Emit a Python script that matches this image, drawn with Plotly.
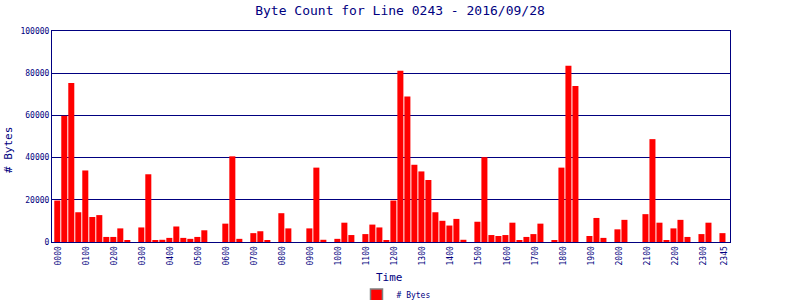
import plotly.graph_objects as go

times = [
    "0000", "0015", "0030", "0045", "0100", "0115", "0130", "0145",
    "0200", "0215", "0230", "0245", "0300", "0315", "0330", "0345",
    "0400", "0415", "0430", "0445", "0500", "0515", "0530", "0545",
    "0600", "0615", "0630", "0645", "0700", "0715", "0730", "0745",
    "0800", "0815", "0830", "0845", "0900", "0915", "0930", "0945",
    "1000", "1015", "1030", "1045", "1100", "1115", "1130", "1145",
    "1200", "1215", "1230", "1245", "1300", "1315", "1330", "1345",
    "1400", "1415", "1430", "1445", "1500", "1515", "1530", "1545",
    "1600", "1615", "1630", "1645", "1700", "1715", "1730", "1745",
    "1800", "1815", "1830", "1845", "1900", "1915", "1930", "1945",
    "2000", "2015", "2030", "2045", "2100", "2115", "2130", "2145",
    "2200", "2215", "2230", "2245", "2300", "2315", "2330", "2345",
]

byte_counts = [
    19650, 59800, 75350, 14100, 33900, 11850, 12750, 2400,
    2400, 6450, 600, 0, 6900, 32100, 600, 1050,
    1950, 7350, 1950, 1500, 2400, 5550, 0, 0,
    8700, 40600, 1500, 0, 4200, 5100, 600, 0,
    13650, 6450, 0, 0, 6450, 35250, 1050, 0,
    1500, 9150, 3300, 0, 3750, 8250, 6900, 600,
    19650, 81150, 69000, 36600, 33450, 29400, 14100, 10050,
    7800, 10950, 1050, 0, 9600, 40200, 3300, 2850,
    3300, 9150, 600, 2400, 3750, 8700, 0, 600,
    35250, 83550, 73950, 0, 2850, 11400, 1950, 0,
    6000, 10500, 0, 0, 13200, 48750, 9150, 600,
    6450, 10500, 2400, 0, 3750, 9150, 0, 4200,
]

tick_labels = [
    "0000", "0100", "0200", "0300", "0400", "0500", "0600", "0700",
    "0800", "0900", "1000", "1100", "1200", "1300", "1400", "1500",
    "1600", "1700", "1800", "1900", "2000", "2100", "2200", "2300", "2345",
]

y_ticks = [0, 20000, 40000, 60000, 80000, 100000]

NAVY = "#000080"
FONT = "DejaVu Sans Mono"

fig = go.Figure()
fig.add_trace(go.Bar(
    x=times, y=byte_counts, name="# Bytes",
    marker=dict(color="#FF0000", line=dict(width=0)),
    width=0.86, showlegend=False,
))
# legend-only entry (gray-bordered red swatch)
fig.add_trace(go.Bar(
    x=[times[0]], y=[None], name="# Bytes",
    marker=dict(color="#FF0000", line=dict(color="#808080", width=1.5)),
    showlegend=True,
))

fig.update_layout(
    width=800, height=300,
    margin=dict(l=52, r=70, t=31, b=58, autoexpand=False),
    paper_bgcolor="white", plot_bgcolor="white",
    font=dict(family=FONT, color=NAVY),
    title=dict(
        text="Byte Count for Line 0243 - 2016/09/28",
        x=0.5, xanchor="center", y=1 - 10 / 300, yanchor="middle",
        yref="container", font=dict(size=13, color=NAVY, family=FONT),
    ),
    bargap=0.14,
    legend=dict(
        orientation="h", x=(396 - 52) / 678, xanchor="center",
        y=(242 - 295) / 211, yanchor="middle",
        font=dict(size=8, color=NAVY, family=FONT),
        bgcolor="rgba(0,0,0,0)",
    ),
    showlegend=True,
)

fig.update_xaxes(
    type="category",
    range=[-0.97, 95.86],
    tickmode="array", tickvals=tick_labels, ticktext=tick_labels,
    tickangle=-90, tickfont=dict(size=8, color=NAVY, family=FONT),
    showgrid=False, showline=True, linecolor=NAVY, linewidth=1, mirror=True,
    ticks="", ticklen=0,
)
fig.update_yaxes(
    range=[0, 100000],
    tickmode="array", tickvals=y_ticks, ticktext=[str(v) for v in y_ticks],
    tickfont=dict(size=8, color=NAVY, family=FONT),
    showgrid=True, gridcolor=NAVY, gridwidth=1,
    zeroline=False,
    showline=True, linecolor=NAVY, linewidth=1, mirror=True,
    ticks="", ticklen=0,
)

fig.add_annotation(
    text="Time", xref="paper", yref="paper",
    x=(389 - 52) / 678, y=(242 - 277) / 211,
    xanchor="center", yanchor="middle", showarrow=False,
    font=dict(size=11, color=NAVY, family=FONT),
)
fig.add_annotation(
    text="# Bytes", xref="paper", yref="paper",
    x=(8 - 52) / 678, y=(242 - 150) / 211,
    xanchor="center", yanchor="middle", showarrow=False, textangle=-90,
    font=dict(size=11, color=NAVY, family=FONT),
)

fig.write_html("out.html")
